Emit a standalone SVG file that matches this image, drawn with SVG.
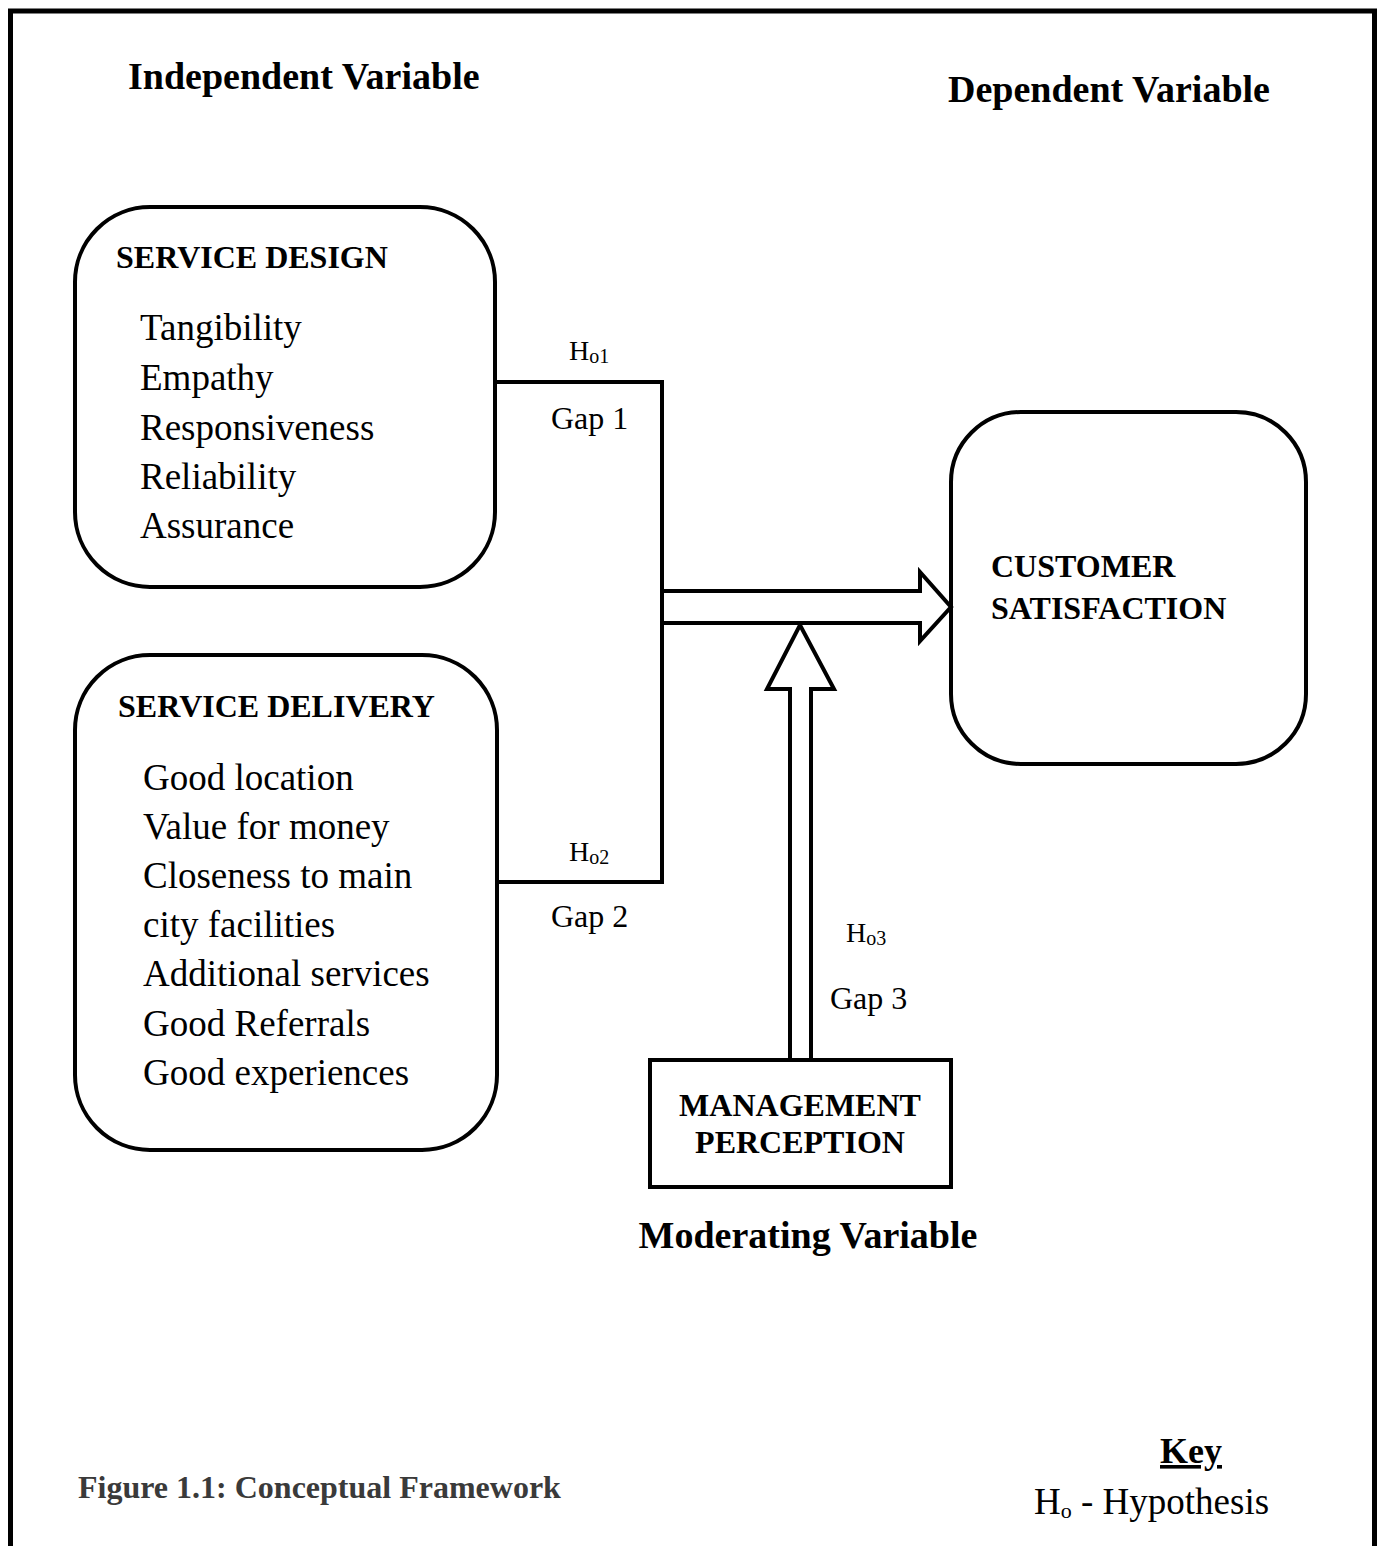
<svg xmlns="http://www.w3.org/2000/svg" width="1381" height="1546" viewBox="0 0 1381 1546">
<style>
text{font-family:"Liberation Serif","Times New Roman",serif;fill:#000}
.h{font-weight:bold;font-size:38px}
.t{font-weight:bold;font-size:32px}
.i{font-size:37px}
.g{font-size:32px}
.s{font-size:20px}
.box{fill:#fff;stroke:#000;stroke-width:4}
.ln{fill:none;stroke:#000;stroke-width:4}
</style>
<rect width="1381" height="1546" fill="#fff"/>
<path d="M10.5 1546V11H1374.5V1546" fill="none" stroke="#000" stroke-width="5"/>
<text class="h" x="128" y="89">Independent Variable</text>
<text class="h" x="948" y="102">Dependent Variable</text>

<g id="service-design">
<rect class="box" x="75" y="207" width="420" height="380" rx="75"/>
<text class="t" x="116" y="268">SERVICE DESIGN</text>
<text class="i" x="140" y="340">Tangibility</text>
<text class="i" x="140" y="390">Empathy</text>
<text class="i" x="140" y="440">Responsiveness</text>
<text class="i" x="140" y="489">Reliability</text>
<text class="i" x="140" y="538">Assurance</text>
</g>

<g id="service-delivery">
<rect class="box" x="75" y="655" width="422" height="495" rx="75"/>
<text class="t" x="118" y="717">SERVICE DELIVERY</text>
<text class="i" x="143" y="790">Good location</text>
<text class="i" x="143" y="839">Value for money</text>
<text class="i" x="143" y="888">Closeness to main</text>
<text class="i" x="143" y="937">city facilities</text>
<text class="i" x="143" y="986">Additional services</text>
<text class="i" x="143" y="1036">Good Referrals</text>
<text class="i" x="143" y="1085">Good experiences</text>
</g>

<g id="customer-satisfaction">
<rect class="box" x="951" y="412" width="355" height="352" rx="70"/>
<text class="t" x="991" y="577">CUSTOMER</text>
<text class="t" x="991" y="619">SATISFACTION</text>
</g>

<g id="management-perception">
<rect class="box" x="650" y="1060" width="301" height="127"/>
<text class="t" x="800" y="1116" text-anchor="middle">MANAGEMENT</text>
<text class="t" x="800" y="1153" text-anchor="middle">PERCEPTION</text>
</g>

<g id="connectors">
<path class="ln" d="M495 382H662V882H497"/>
<path class="ln" d="M664 591H920V572L951 607L920 641V623H664"/>
<path class="ln" d="M790 1060V689H767L800 625L834 689H811V1060"/>
<text class="g" x="569" y="360" style="font-size:28px">H<tspan class="s" dy="3">o1</tspan></text>
<text class="g" x="551" y="429">Gap 1</text>
<text class="g" x="569" y="861" style="font-size:28px">H<tspan class="s" dy="3">o2</tspan></text>
<text class="g" x="551" y="927">Gap 2</text>
<text class="g" x="846" y="942" style="font-size:28px">H<tspan class="s" dy="3">o3</tspan></text>
<text class="g" x="830" y="1009">Gap 3</text>
</g>

<text class="h" x="808" y="1248" text-anchor="middle">Moderating Variable</text>
<text class="t" x="78" y="1498" style="fill:#3a3a3a">Figure 1.1: Conceptual Framework</text>
<text x="1191" y="1463" text-anchor="middle" font-weight="bold" font-size="36" text-decoration="underline">Key</text>
<text x="1034" y="1514" font-size="37">H<tspan font-size="22" dy="4">o</tspan><tspan dy="-4"> - Hypothesis</tspan></text>
</svg>
